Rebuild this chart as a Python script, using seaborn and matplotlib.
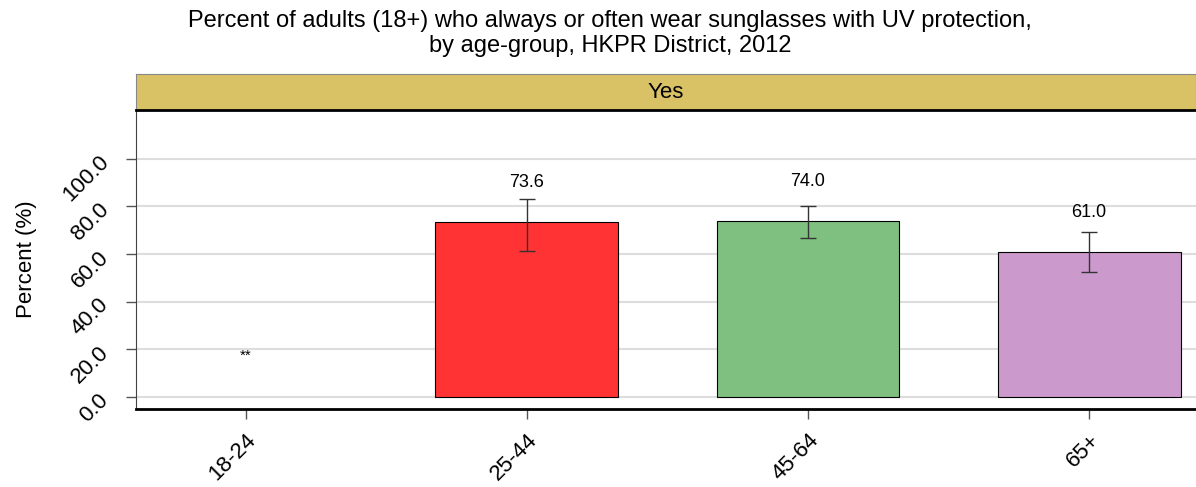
import numpy as np
import pandas as pd
import matplotlib
matplotlib.use('Agg')
import matplotlib.pyplot as plt
import seaborn as sns

# data
age_groups = ['18-24', '25-44', '45-64', '65+']
percent = [np.nan, 73.6, 74.0, 61.0]
ci_low = [np.nan, 61.3, 66.8, 52.5]
ci_high = [np.nan, 83.2, 80.3, 69.3]
suppressed = ['**', '', '', '']
bar_colors = ['#FFFFFF', '#FF3333', '#7FBF7F', '#CC99CC']
yticks = [0, 20, 40, 60, 80, 100]

df = pd.DataFrame({'age': age_groups, 'pct': percent, 'lo': ci_low, 'hi': ci_high})

sns.set_style('white')
plt.rcParams['font.family'] = ['Liberation Sans', 'DejaVu Sans']
plt.rcParams['text.color'] = 'black'
plt.rcParams['xtick.color'] = '#555555'
plt.rcParams['ytick.color'] = '#555555'
plt.rcParams['xtick.labelcolor'] = 'black'
plt.rcParams['ytick.labelcolor'] = 'black'
plt.rcParams['axes.labelcolor'] = 'black'

fig = plt.figure(figsize=(11.96, 4.87), dpi=100)
ax = fig.add_axes([0.1137, 0.1602, 0.8863, 0.6139])
strip = fig.add_axes([0.1137, 0.7741, 0.8863, 0.0739])

sns.barplot(data=df, x='age', y='pct', hue='age', palette=bar_colors, legend=False, saturation=1,
            width=0.65, edgecolor='black', linewidth=0.8, ax=ax, errorbar=None)

xs = np.arange(len(age_groups))
pct = df['pct'].to_numpy()
err = np.vstack([pct - df['lo'].to_numpy(), df['hi'].to_numpy() - pct])
ax.errorbar(xs, pct, yerr=err, fmt='none', ecolor='#333333', elinewidth=1, capsize=6, capthick=1)

for i, v in enumerate(percent):
    if np.isnan(v):
        ax.text(i, 17.5, suppressed[i], ha='center', va='center', fontsize=11)
    else:
        ax.text(i, v + 16.5, f'{v:.1f}', ha='center', va='center', fontsize=13)

ax.set_ylim(-5, 120.5)
ax.set_xlim(-0.39, 3.38)
ax.set_yticks(yticks)
ax.set_yticklabels([f'{t:.1f}' for t in yticks], rotation=45, fontsize=16,
                   ha='right', va='center', rotation_mode='anchor')
ax.set_xticks(xs)
ax.set_xticklabels(age_groups, rotation=45, ha='right', rotation_mode='anchor', fontsize=16)
ax.set_axisbelow(True)
ax.yaxis.grid(True, color='#DDDDDD', linewidth=1.5)
ax.tick_params(axis='both', which='both', length=7, width=1, left=True, bottom=True)
ax.tick_params(axis='y', pad=15)
ax.tick_params(axis='x', pad=8)
ax.set_xlabel('')
ax.set_ylabel('Percent (%)', fontsize=16)
ax.yaxis.set_label_coords(-0.093, 0.5)
for side in ['top', 'right']:
    ax.spines[side].set_visible(False)
ax.spines['left'].set_color('#444444')
ax.spines['bottom'].set_linewidth(2)
ax.spines['bottom'].set_color('black')

strip.set_facecolor('#D9C265')
strip.set_xticks([])
strip.set_yticks([])
for s in strip.spines.values():
    s.set_color('#888888')
strip.spines['bottom'].set_color('black')
strip.spines['bottom'].set_linewidth(2)
strip.text(0.5, 0.5, 'Yes', ha='center', va='center', fontsize=16, transform=strip.transAxes)

fig.suptitle('Percent of adults (18+) who always or often wear sunglasses with UV protection,\nby age-group, HKPR District, 2012',
             x=0.51, y=0.98, fontsize=17, linespacing=1.2)

fig.savefig('out.png', dpi=100)
